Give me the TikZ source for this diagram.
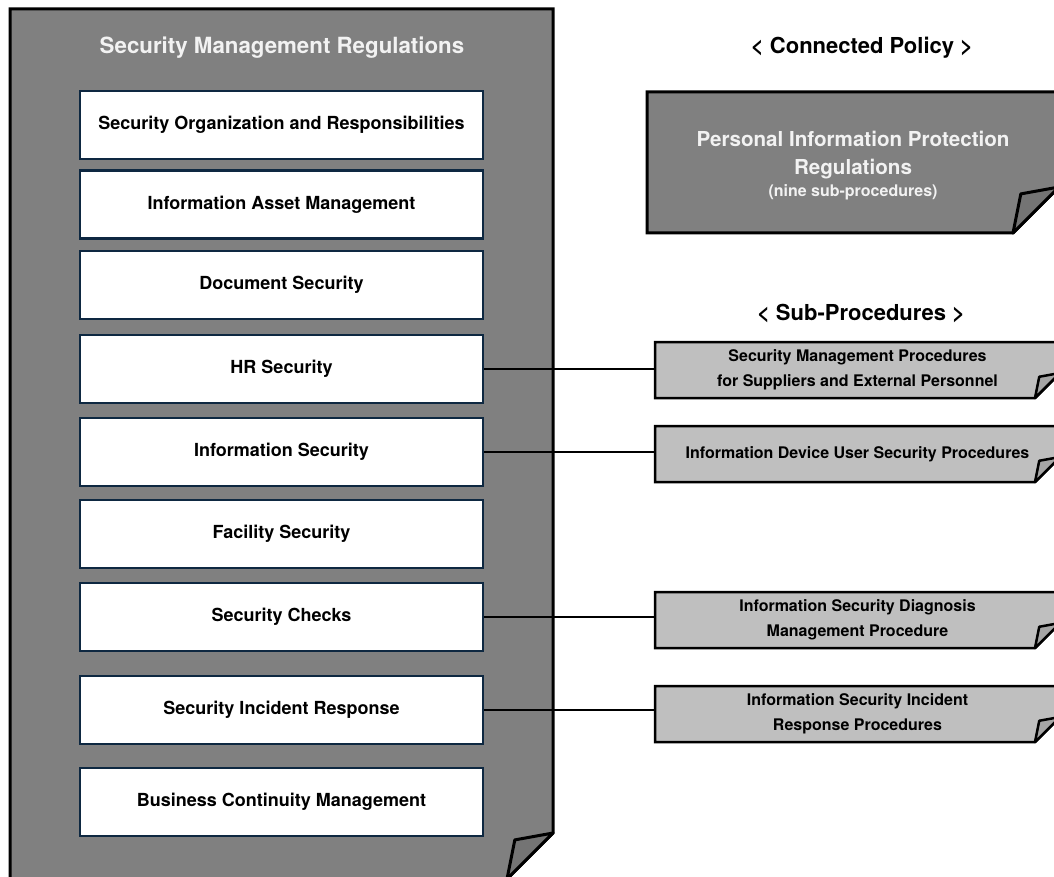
\documentclass[tikz,border=0pt]{standalone}
\usepackage{fontspec}
\setmainfont{TeX Gyre Heros}
\usetikzlibrary{calc}

\definecolor{docgray}{HTML}{808080}
\definecolor{docfold}{HTML}{747474}
\definecolor{subgray}{HTML}{BFBFBF}
\definecolor{subfold}{HTML}{A5A5A5}
\definecolor{navy}{HTML}{0E2841}
\definecolor{lighttext}{HTML}{F2F2F2}

% outline of a sheet with a curled lower-right corner, built on a node's anchors
\newcommand\sheet[5]{%
  \draw[line width=#5, fill=#3, line join=miter]
    (#1.north west) -- (#1.north east) -- ($(#1.south east)+(0,-#2)$)
    -- ($(#1.south east)+(-#2,0)$) -- (#1.south west) -- cycle;
  \draw[line width=#5, fill=#4, line join=round]
    ($(#1.south east)+(0,-#2)$) -- ($(#1.south east)+(-0.83*#2,-0.85*#2)$)
    -- ($(#1.south east)+(-#2,0)$) -- cycle;}

\tikzset{
  frame/.style={rectangle, inner sep=0pt, outer sep=0pt},
  item/.style={rectangle, draw=navy, line width=2.4pt, fill=white, inner sep=0pt,
    minimum width=403pt, minimum height=68pt,
    font=\fontsize{18}{20}\selectfont\bfseries, text=black},
  subdoc/.style={frame, minimum width=405pt, minimum height=56pt},
  subtext/.style={align=center, font=\fontsize{16}{25}\selectfont\bfseries, text=black},
  heading/.style={font=\fontsize{22}{24}\selectfont\bfseries, text=black},
  link/.style={line width=2pt, draw=black},
}

\begin{document}
\begin{tikzpicture}[x=1pt, y=-1pt]
\useasboundingbox (0,0) rectangle (1054,877);

% main regulation sheet
\node[frame, minimum width=543pt, minimum height=870pt] (main) at (281.5,444) {};
\sheet{main}{46}{docgray}{docfold}{3pt}
\node[font=\fontsize{22.3}{24}\selectfont\bfseries, text=lighttext] (title) at (282,48)
  {Security Management Regulations};

% chapters of the regulation
\node[item] (c1) at (281.5,125) {Security Organization and Responsibilities};
\node[item] (c2) at (281.5,204.5) {Information Asset Management};
\node[item] (c3) at (281.5,285) {Document Security};
\node[item] (c4) at (281.5,369) {HR Security};
\node[item] (c5) at (281.5,452) {Information Security};
\node[item] (c6) at (281.5,534) {Facility Security};
\node[item] (c7) at (281.5,617) {Security Checks};
\node[item] (c8) at (281.5,710) {Security Incident Response};
\node[item] (c9) at (281.5,802) {Business Continuity Management};

% connected policy
\node[heading] (hpol) at (862,48) {< Connected Policy >};
\node[frame, minimum width=412pt, minimum height=141pt] (pol) at (853,162.5) {};
\sheet{pol}{46}{docgray}{docfold}{3pt}
\node[align=center, text=lighttext, font=\fontsize{20.6}{28}\selectfont\bfseries] (poltext) at (853,166)
  {Personal Information Protection\\Regulations\\[-6pt]{\fontsize{16}{18}\selectfont(nine sub-procedures)}};

% sub-procedures
\node[heading] (hsub) at (861,314) {< Sub-Procedures >};
\node[subdoc] (s1) at (857.5,370) {};
\node[subdoc] (s2) at (857.5,454) {};
\node[subdoc] (s3) at (857.5,620) {};
\node[subdoc] (s4) at (857.5,714) {};
\foreach \s in {s1,s2,s3,s4} {\sheet{\s}{25}{subgray}{subfold}{2.5pt}}
\node[subtext] at (s1) {Security Management Procedures\\for Suppliers and External Personnel};
\node[subtext] at (s2) {Information Device User Security Procedures};
\node[subtext] at (s3) {Information Security Diagnosis\\Management Procedure};
\node[subtext] at (s4) {Information Security Incident\\Response Procedures};

% links from chapters to their procedures
\draw[link] (c4.east) -- (c4.east -| s1.west);
\draw[link] (c5.east) -- (c5.east -| s2.west);
\draw[link] (c7.east) -- (c7.east -| s3.west);
\draw[link] (c8.east) -- (c8.east -| s4.west);
\end{tikzpicture}
\end{document}
